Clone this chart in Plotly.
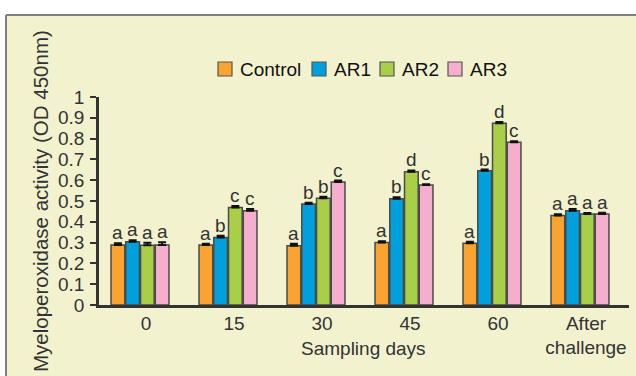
import plotly.graph_objects as go

categories = ["0", "15", "30", "45", "60", "After<br>challenge"]
series_names = ["Control", "AR1", "AR2", "AR3"]
control = [0.289, 0.289, 0.285, 0.301, 0.297, 0.430]
ar1 = [0.304, 0.325, 0.485, 0.511, 0.646, 0.453]
ar2 = [0.287, 0.469, 0.513, 0.641, 0.874, 0.438]
ar3 = [0.288, 0.453, 0.591, 0.577, 0.782, 0.437]
control_err = [0.008, 0.006, 0.010, 0.006, 0.007, 0.006]
ar1_err = [0.007, 0.008, 0.006, 0.007, 0.005, 0.008]
ar2_err = [0.012, 0.007, 0.008, 0.006, 0.006, 0.004]
ar3_err = [0.014, 0.008, 0.007, 0.004, 0.005, 0.006]
control_letters = ["a", "a", "a", "a", "a", "a"]
ar1_letters = ["a", "b", "b", "b", "b", "a"]
ar2_letters = ["a", "c", "b", "d", "d", "a"]
ar3_letters = ["a", "c", "c", "c", "c", "a"]
y_ticks = [0, 0.1, 0.2, 0.3, 0.4, 0.5, 0.6, 0.7, 0.8, 0.9, 1]
y_tick_labels = ["0", "0.1", "0.2", "0.3", "0.4", "0.5", "0.6", "0.7", "0.8", "0.9", "1"]

values = [control, ar1, ar2, ar3]
errors = [control_err, ar1_err, ar2_err, ar3_err]
letters = [control_letters, ar1_letters, ar2_letters, ar3_letters]
colors = ["#F9A431", "#00A0DC", "#A9CE48", "#F5AECD"]

FONT = "Liberation Sans, Arial, sans-serif"
FS = 19
TXT = "#333333"
PANEL = "#F2F2CF"
xpos = list(range(len(categories)))

fig = go.Figure()
for name, vals, errs, col in zip(series_names, values, errors, colors):
    fig.add_trace(go.Bar(
        x=xpos, y=vals, name=name, showlegend=False,
        marker=dict(color=col, line=dict(color="#4a4a4a", width=1.5)),
        error_y=dict(type="data", array=errs, arrayminus=[0] * len(errs),
                     symmetric=False, color="#111111", thickness=2, width=4),
    ))

# significance letters
bargap = 0.33
groupgap = 0.07
slot = (1 - bargap) / 4
for i, (vals, errs, labs) in enumerate(zip(values, errors, letters)):
    off = (i - 1.5) * slot
    for j, (v, e, t) in enumerate(zip(vals, errs, labs)):
        fig.add_annotation(x=xpos[j] + off, y=v + e, text=t, showarrow=False,
                           xref="x", yref="y", yanchor="bottom", yshift=-2,
                           font=dict(family=FONT, size=FS, color=TXT))

L, R, T, B = 99, 7, 97, 71
W, H = 636, 376
pw, ph = W - L - R, H - T - B

def px_x(p):
    return (p - L) / pw

def px_y(p):
    return (H - B - p) / ph

# white outside strips (top and left) + panel border
fig.add_shape(type="rect", xref="paper", yref="paper",
              x0=px_x(-10), x1=px_x(W + 20), y0=px_y(15), y1=px_y(-10),
              fillcolor="white", line=dict(width=0), layer="below")
fig.add_shape(type="rect", xref="paper", yref="paper",
              x0=px_x(-10), x1=px_x(6), y0=px_y(H + 20), y1=px_y(15),
              fillcolor="white", line=dict(width=0), layer="below")
fig.add_shape(type="line", xref="paper", yref="paper",
              x0=px_x(6), x1=px_x(W + 20), y0=px_y(15), y1=px_y(15),
              line=dict(color="#7f7f7f", width=2), layer="below")
fig.add_shape(type="line", xref="paper", yref="paper",
              x0=px_x(6), x1=px_x(6), y0=px_y(15), y1=px_y(H + 20),
              line=dict(color="#7f7f7f", width=2), layer="below")

# legend (drawn as swatches + text)
legend_x = [218, 312, 380, 448]
for name, col, lx in zip(series_names, colors, legend_x):
    fig.add_shape(type="rect", xref="paper", yref="paper",
                  x0=px_x(lx), x1=px_x(lx + 14), y0=px_y(76), y1=px_y(62),
                  fillcolor=col, line=dict(color="#555555", width=1.2))
    fig.add_annotation(xref="paper", yref="paper", x=px_x(lx + 20), y=px_y(69),
                       xanchor="left", yanchor="middle", text=name, showarrow=False,
                       font=dict(family=FONT, size=FS, color="#111111"))

# axis titles
fig.add_annotation(xref="paper", yref="paper", x=px_x(40), y=0.5,
                   xanchor="center", yanchor="middle",
                   text="Myeloperoxidase activity (OD 450nm)", textangle=-90,
                   showarrow=False, font=dict(family=FONT, size=20.5, color=TXT))
fig.add_annotation(xref="paper", yref="paper", x=px_x(363), y=px_y(348),
                   xanchor="center", yanchor="middle",
                   text="Sampling days", showarrow=False,
                   font=dict(family=FONT, size=FS, color=TXT))

fig.update_layout(
    template="none",
    width=W, height=H, autosize=False,
    margin=dict(l=L, r=R, t=T, b=B, pad=0, autoexpand=False),
    paper_bgcolor=PANEL, plot_bgcolor="rgba(0,0,0,0)",
    barmode="group", bargap=bargap, bargroupgap=groupgap,
    font=dict(family=FONT, size=FS, color=TXT),
    showlegend=False,
    xaxis=dict(range=[-0.466, 5.557], tickvals=xpos, ticktext=categories,
               automargin=False,
               showline=True, linecolor="#333333", linewidth=2.5, ticks="",
               showgrid=False, zeroline=False, ticklabelshift=6, ticklabelstandoff=-1,
               tickfont=dict(family=FONT, size=FS, color=TXT)),
    yaxis=dict(range=[0, 1], tickvals=y_ticks, ticktext=y_tick_labels,
               automargin=False,
               showline=True, linecolor="#333333", linewidth=2.5,
               ticks="outside", ticklen=6, tickwidth=1.5, tickcolor="#333333",
               showgrid=False, zeroline=False, ticklabelstandoff=2,
               tickfont=dict(family=FONT, size=FS, color=TXT)),
)

fig.write_html("out.html",
               config={"displayModeBar": False, "responsive": False},
               post_script=("document.documentElement.style.overflow='hidden';"
                            "document.body.style.margin='0';"
                            "document.body.style.overflow='hidden';"))
